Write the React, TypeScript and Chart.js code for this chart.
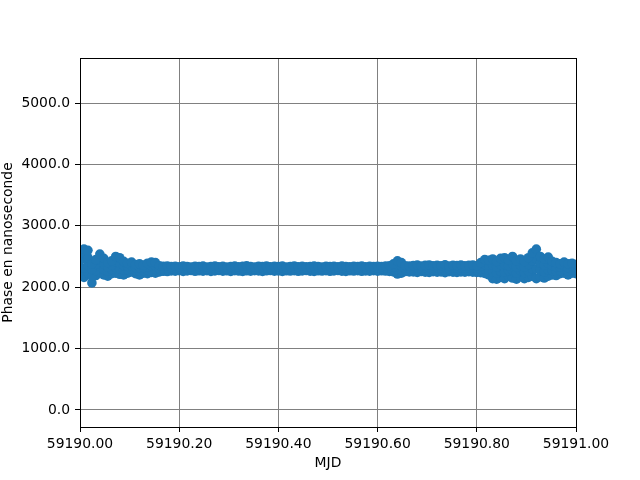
import { useEffect, useRef } from "react";
import { Chart, registerables } from "chart.js";

Chart.register(...registerables);

const MJD_BASE = 59190;

const mjdOffset = [
  0.000, 0.008, 0.016, 0.024, 0.032, 0.040, 0.048, 0.056, 0.064, 0.072,
  0.080, 0.088, 0.096, 0.104, 0.112, 0.120, 0.128, 0.136, 0.144, 0.152,
  0.160, 0.168, 0.176, 0.184, 0.192, 0.200, 0.208, 0.216, 0.224, 0.232,
  0.240, 0.248, 0.256, 0.264, 0.272, 0.280, 0.288, 0.296, 0.304, 0.312,
  0.320, 0.328, 0.336, 0.344, 0.352, 0.360, 0.368, 0.376, 0.384, 0.392,
  0.400, 0.408, 0.416, 0.424, 0.432, 0.440, 0.448, 0.456, 0.464, 0.472,
  0.480, 0.488, 0.496, 0.504, 0.512, 0.520, 0.528, 0.536, 0.544, 0.552,
  0.560, 0.568, 0.576, 0.584, 0.592, 0.600, 0.608, 0.616, 0.624, 0.632,
  0.640, 0.648, 0.656, 0.664, 0.672, 0.680, 0.688, 0.696, 0.704, 0.712,
  0.720, 0.728, 0.736, 0.744, 0.752, 0.760, 0.768, 0.776, 0.784, 0.792,
  0.800, 0.808, 0.816, 0.824, 0.832, 0.840, 0.848, 0.856, 0.864, 0.872,
  0.880, 0.888, 0.896, 0.904, 0.912, 0.920, 0.928, 0.936, 0.944, 0.952,
  0.960, 0.968, 0.976, 0.984, 0.992, 1.000,
];

const phaseUpper = [
  2560, 2620, 2600, 2380, 2450, 2540, 2470, 2400, 2430, 2500,
  2480, 2420, 2390, 2410, 2370, 2380, 2360, 2390, 2410, 2400,
  2350, 2340, 2345, 2335, 2340, 2332, 2345, 2338, 2330, 2342,
  2336, 2344, 2330, 2338, 2346, 2334, 2340, 2328, 2336, 2344,
  2332, 2340, 2348, 2335, 2330, 2342, 2338, 2345, 2333, 2340,
  2336, 2344, 2330, 2338, 2346, 2334, 2340, 2332, 2336, 2344,
  2338, 2330, 2342, 2336, 2340, 2334, 2344, 2338, 2332, 2340,
  2336, 2345, 2334, 2340, 2338, 2342, 2336, 2344, 2350, 2380,
  2430, 2400, 2350, 2345, 2352, 2360, 2345, 2355, 2362, 2348,
  2356, 2350, 2364, 2346, 2358, 2352, 2360, 2348, 2356, 2362,
  2350, 2400, 2450, 2440, 2460, 2420, 2470, 2480, 2440, 2500,
  2430, 2460, 2420, 2480, 2560, 2620, 2500, 2460, 2490, 2420,
  2400, 2380, 2410, 2380, 2390, 2370,
];

const phaseMidHigh = [
  2440, 2470, 2480, 2290, 2370, 2440, 2380, 2330, 2360, 2410,
  2390, 2350, 2340, 2350, 2320, 2320, 2320, 2330, 2350, 2340,
  2310, 2310, 2310, 2305, 2312, 2306, 2314, 2308, 2302, 2311,
  2305, 2313, 2300, 2309, 2315, 2304, 2310, 2298, 2307, 2312,
  2303, 2309, 2316, 2305, 2301, 2311, 2308, 2314, 2302, 2310,
  2306, 2313, 2300, 2308, 2315, 2304, 2310, 2302, 2306, 2313,
  2308, 2300, 2312, 2305, 2310, 2303, 2314, 2308, 2301, 2310,
  2306, 2314, 2303, 2310, 2307, 2312, 2305, 2314, 2318, 2330,
  2360, 2340, 2312, 2310, 2315, 2320, 2308, 2316, 2322, 2310,
  2318, 2312, 2324, 2306, 2318, 2314, 2320, 2308, 2316, 2322,
  2310, 2340, 2370, 2360, 2360, 2330, 2370, 2370, 2350, 2380,
  2330, 2360, 2330, 2370, 2430, 2460, 2390, 2360, 2390, 2350,
  2330, 2330, 2350, 2320, 2340, 2320,
];

const phaseMidLow = [
  2320, 2310, 2350, 2180, 2270, 2340, 2290, 2260, 2290, 2320,
  2300, 2280, 2290, 2300, 2270, 2260, 2270, 2280, 2290, 2290,
  2290, 2290, 2290, 2295, 2288, 2294, 2286, 2292, 2298, 2289,
  2295, 2287, 2296, 2291, 2285, 2296, 2290, 2294, 2288, 2284,
  2296, 2290, 2286, 2293, 2298, 2289, 2292, 2286, 2297, 2290,
  2294, 2287, 2296, 2292, 2285, 2296, 2290, 2298, 2294, 2287,
  2292, 2296, 2288, 2295, 2290, 2297, 2286, 2292, 2298, 2290,
  2294, 2286, 2297, 2290, 2293, 2288, 2295, 2286, 2284, 2290,
  2290, 2280, 2288, 2285, 2282, 2278, 2290, 2280, 2275, 2286,
  2280, 2284, 2274, 2288, 2280, 2276, 2284, 2278, 2282, 2276,
  2284, 2290, 2300, 2280, 2250, 2230, 2260, 2250, 2270, 2270,
  2230, 2270, 2240, 2260, 2300, 2300, 2280, 2250, 2280, 2270,
  2260, 2270, 2290, 2260, 2280, 2270,
];

const phaseLower = [
  2200, 2160, 2230, 2070, 2190, 2240, 2200, 2180, 2220, 2230,
  2210, 2200, 2230, 2250, 2220, 2200, 2230, 2220, 2240, 2230,
  2250, 2260, 2255, 2265, 2262, 2270, 2258, 2266, 2272, 2260,
  2268, 2262, 2270, 2258, 2266, 2272, 2262, 2268, 2256, 2270,
  2264, 2258, 2268, 2262, 2270, 2265, 2258, 2268, 2272, 2262,
  2266, 2258, 2268, 2264, 2270, 2260, 2266, 2272, 2262, 2258,
  2268, 2264, 2270, 2260, 2266, 2272, 2262, 2258, 2268, 2264,
  2270, 2260, 2266, 2262, 2270, 2262, 2268, 2264, 2258, 2250,
  2215, 2230, 2255, 2250, 2248, 2242, 2255, 2246, 2240, 2252,
  2244, 2250, 2238, 2254, 2246, 2240, 2250, 2244, 2252, 2246,
  2240, 2238, 2225, 2200, 2140, 2130, 2160, 2140, 2180, 2150,
  2130, 2170, 2140, 2160, 2180, 2140, 2170, 2150, 2180, 2200,
  2190, 2220, 2230, 2200, 2230, 2220,
];

const xTickValues = [59190.0, 59190.2, 59190.4, 59190.6, 59190.8, 59191.0];
const yTickValues = [0, 1000, 2000, 3000, 4000, 5000];

const X_MIN = 59190.0;
const X_MAX = 59191.0;
const Y_MIN = -277;
const Y_MAX = 5733;

const FONT = "'DejaVu Sans', sans-serif";
const FONT_SIZE = 13.9;

const framePlugin = {
  id: "frameBox",
  afterDraw(chart: any) {
    const { ctx, chartArea } = chart;
    const { left, top, right, bottom } = chartArea;
    ctx.save();
    ctx.strokeStyle = "#000000";
    ctx.lineWidth = 1;
    ctx.strokeRect(Math.round(left) + 0.5, Math.round(top) + 0.5, Math.round(right - left), Math.round(bottom - top));
    ctx.restore();
  },
};

export default function App() {
  const canvasRef = useRef<HTMLCanvasElement | null>(null);

  useEffect(() => {
    const canvas = canvasRef.current;
    if (!canvas) return;

    const points: { x: number; y: number }[] = [];
    const rows = [phaseLower, phaseMidLow, phaseMidHigh, phaseUpper];
    for (const row of rows) {
      for (let i = 0; i < mjdOffset.length; i++) {
        points.push({ x: MJD_BASE + mjdOffset[i], y: row[i] });
      }
    }

    const chart = new Chart(canvas, {
      type: "scatter",
      data: {
        datasets: [
          {
            data: points,
            backgroundColor: "#1f77b4",
            borderColor: "#1f77b4",
            borderWidth: 0,
            pointRadius: 4.8,
            pointHoverRadius: 4.8,
            clip: 0,
          },
        ],
      },
      options: {
        animation: false,
        responsive: false,
        devicePixelRatio: 1,
        events: [],
        layout: { padding: { left: 0, right: 64, top: 58, bottom: 0 } },
        plugins: {
          legend: { display: false },
          tooltip: { enabled: false },
        },
        scales: {
          x: {
            type: "linear",
            min: X_MIN,
            max: X_MAX,
            afterBuildTicks: (scale: any) => {
              scale.ticks = xTickValues.map((v) => ({ value: v }));
            },
            afterFit: (scale: any) => {
              scale.height = 53;
            },
            ticks: {
              color: "#000000",
              font: { family: FONT, size: FONT_SIZE },
              padding: 4,
              maxRotation: 0,
              autoSkip: false,
              callback: (v: any) => Number(v).toFixed(2),
            },
            grid: {
              color: "#808080",
              lineWidth: 1,
              tickColor: "#000000",
              tickLength: 5,
            },
            border: { color: "#000000", width: 1 },
            title: {
              display: true,
              text: "MJD",
              color: "#000000",
              font: { family: FONT, size: FONT_SIZE },
              padding: { top: 0, bottom: 8 },
            },
          },
          y: {
            type: "linear",
            min: Y_MIN,
            max: Y_MAX,
            afterBuildTicks: (scale: any) => {
              scale.ticks = yTickValues.map((v) => ({ value: v }));
            },
            afterFit: (scale: any) => {
              scale.width = 80;
            },
            ticks: {
              color: "#000000",
              font: { family: FONT, size: FONT_SIZE },
              padding: 5,
              autoSkip: false,
              callback: (v: any) => Number(v).toFixed(1),
            },
            grid: {
              color: "#808080",
              lineWidth: 1,
              tickColor: "#000000",
              tickLength: 5,
            },
            border: { color: "#000000", width: 1 },
            title: {
              display: true,
              text: "Phase en nanoseconde",
              color: "#000000",
              font: { family: FONT, size: FONT_SIZE },
              padding: { top: 0, bottom: 0 },
            },
          },
        },
      },
      plugins: [framePlugin],
    });

    return () => {
      chart.destroy();
    };
  }, []);

  return (
    <div style={{ position: "absolute", left: 0, top: 0, width: 640, height: 480, background: "#ffffff" }}>
      <canvas ref={canvasRef} width={640} height={480} style={{ width: 640, height: 480, display: "block" }} />
    </div>
  );
}
